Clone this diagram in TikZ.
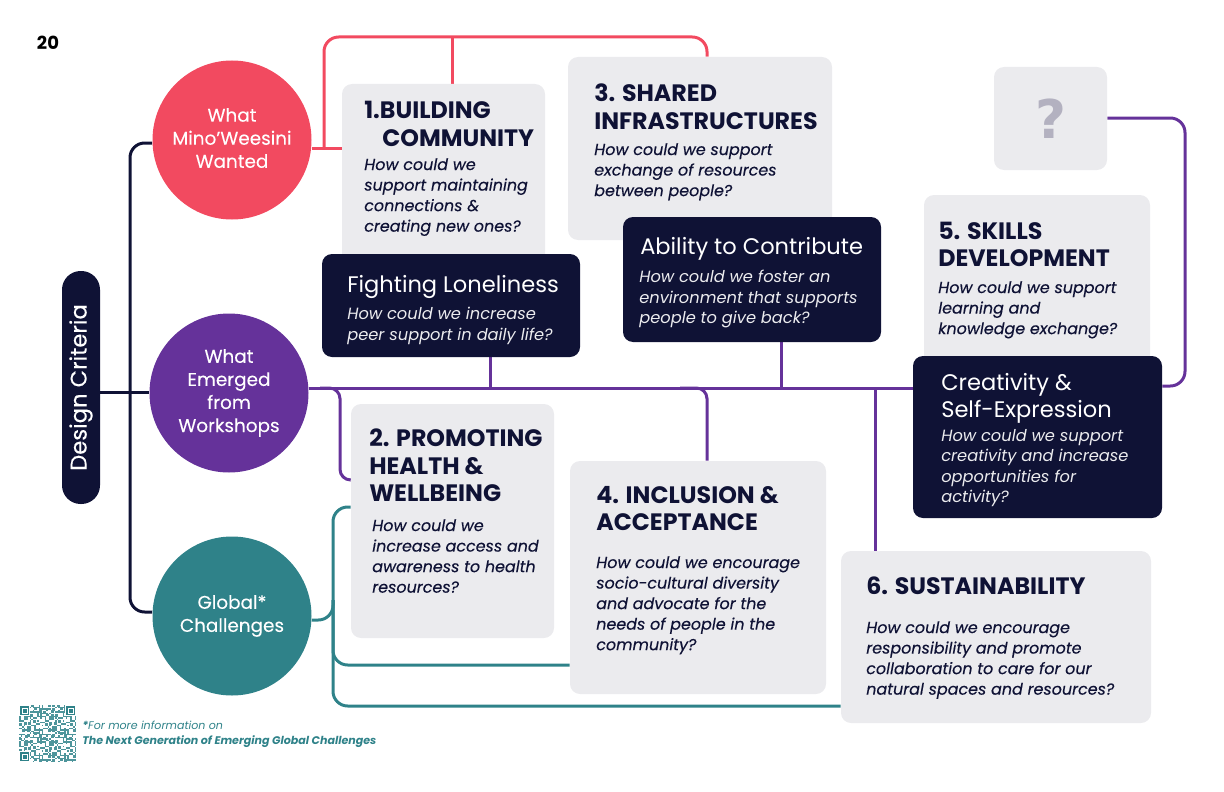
\documentclass[tikz,border=0pt]{standalone}
\usepackage{fontspec}
\setmainfont{Poppins}
\newfontfamily\qmfont{DejaVu Sans}
\usetikzlibrary{backgrounds}
\definecolor{pinkc}{HTML}{F24A60}
\definecolor{purp}{HTML}{65329A}
\definecolor{tealc}{HTML}{2F8289}
\definecolor{navy}{HTML}{0F1235}
\definecolor{greyb}{HTML}{EBEBEE}
\definecolor{qm}{HTML}{B3B1C0}
\tikzset{
  x=0.75pt,y=-0.75pt,
  circ/.style={circle,minimum size=119.25pt,inner sep=0pt,text=white,align=center,font=\fontsize{13.8}{17.3}\selectfont\addfontfeature{FakeBold=0.12}},
  greybox/.style={fill=greyb,rounded corners=7.5pt,draw=none,inner sep=0pt},
  darkbox/.style={fill=navy,rounded corners=7.5pt,draw=none,inner sep=0pt},
  head/.style={anchor=north west,inner sep=0pt,align=left,text=navy,font=\fontsize{17.8}{20.4}\selectfont\bfseries},
  ques/.style={anchor=north west,inner sep=0pt,align=left,text=navy,font=\fontsize{11.95}{15.4}\selectfont\itshape\addfontfeature{FakeBold=0.25}},
  dhead/.style={anchor=north west,inner sep=0pt,align=left,text=white,font=\fontsize{16.9}{20.2}\selectfont},
  dques/.style={anchor=north west,inner sep=0pt,align=left,text=white!92!navy,font=\fontsize{12.2}{15.4}\selectfont\itshape},
  conn/.style={line width=2.25pt,rounded corners=11pt},
  thin conn/.style={line width=2.25pt,rounded corners=8pt},
}
\begin{document}
\begin{tikzpicture}
\useasboundingbox (0,0) rectangle (1224,792);

\node[anchor=center,inner sep=0pt,font=\fontsize{13.5}{16}\selectfont\bfseries,text=black] (pg) at (48,43) {20};

% circles
\node[circ,fill=pinkc] (cp) at (232,140) {};
\node[circ,minimum size=0pt] (cpt) at (232,138) {What\\Mino'Weesini\\Wanted};
\node[circ,fill=purp] (cw) at (229,393) {What\\Emerged\\from\\Workshops};
\node[circ,fill=tealc] (cg) at (232,616) {Global*\\Challenges};

% pill
\node[fill=navy,rounded corners=14pt,minimum width=174.75pt,minimum height=28.5pt,inner sep=0pt,rotate=90,text=white,font=\fontsize{17}{20}\selectfont\addfontfeature{FakeBold=0.2}] (dc) at (81,387.5) {Design Criteria};

% grey boxes
\node[greybox,minimum width=152.25pt,minimum height=135pt] (b1) at (443.5,174) {};
\node[greybox,minimum width=198pt,minimum height=137.25pt] (b3) at (700,148.5) {};
\node[greybox,minimum width=169.5pt,minimum height=135pt] (b5) at (1037,285) {};
\node[greybox,minimum width=84.75pt,minimum height=77.25pt,text=qm,font=\fontsize{40}{40}\qmfont\bfseries] (bq) at (1050.5,118.5) {?};
\node[greybox,minimum width=152.25pt,minimum height=175.5pt] (b2) at (452.5,521) {};
\node[greybox,minimum width=192pt,minimum height=174.75pt] (b4) at (698,577.5) {};
\node[greybox,minimum width=232.5pt,minimum height=129pt] (b6) at (996,637) {};

% dark boxes
\node[darkbox,minimum width=193.5pt,minimum height=77.25pt] (dl) at (451,305.5) {};
\node[darkbox,minimum width=193.5pt,minimum height=93.75pt] (da) at (752,279.5) {};
\node[darkbox,minimum width=186.75pt,minimum height=121.5pt] (ds) at (1037.5,437) {};

% texts
\node[head] (t1a) at (364,101) {1.BUILDING};
\node[head] (t1b) at (382,129) {COMMUNITY};
\node[ques] (q1) at (364,158) {How could we\\support maintaining\\connections \&\\creating new ones?};
\node[head] (t3) at (594,84) {3. SHARED\\INFRASTRUCTURES};
\node[ques] (q3) at (594,143) {How could we support\\exchange of resources\\between people?};
\node[head] (t5) at (938,222) {5. SKILLS\\DEVELOPMENT};
\node[ques] (q5) at (938,281) {How could we support\\learning and\\knowledge exchange?};
\node[head] (t2) at (369,429) {2. PROMOTING\\HEALTH \&\\WELLBEING};
\node[ques] (q2) at (372,519) {How could we\\increase access and\\awareness to health\\resources?};
\node[head] (t4) at (596,486) {4. INCLUSION \&\\ACCEPTANCE};
\node[ques] (q4) at (596,556) {How could we encourage\\socio-cultural diversity\\and advocate for the\\needs of people in the\\community?};
\node[head] (t6) at (866,577) {6. SUSTAINABILITY};
\node[ques] (q6) at (866,621) {How could we encourage\\responsibility and promote\\collaboration to care for our\\natural spaces and resources?};

\node[dhead] (tl) at (347,275) {Fighting Loneliness};
\node[dques] (ql) at (347,307) {How could we increase\\peer support in daily life?};
\node[dhead] (ta) at (640,237) {Ability to Contribute};
\node[dques] (qa) at (639,270) {How could we foster an\\environment that supports\\people to give back?};
\node[dhead] (ts) at (941,373) {Creativity \&\\Self-Expression};
\node[dques] (qs) at (941,429) {How could we support\\creativity and increase\\opportunities for\\activity?};

% footer
\node[anchor=north west,inner sep=0pt,align=left,text=tealc,font=\fontsize{8.3}{11.4}\selectfont\itshape] (fn) at (82,720.5) {\textbf{*}For more information on\\\textbf{The Next Generation of Emerging Global Challenges}};

% QR
\begin{scope}[shift={(19,705)}]
\fill[tealc!85] (0,0) rectangle (57,57);
\foreach \i in {0,...,37}{\foreach \j in {0,...,37}{
  \pgfmathtruncatemacro{\v}{mod(\i*\i*3+\j*\j*2+\i*\j+\i,17)}
  \ifnum\v<8 \fill[white] (\i*1.5,\j*1.5) rectangle ++(1.5,1.5);\fi
}}
\foreach \a/\b in {0/0,46/0,0/46}{
  \fill[white] (\a,\b) rectangle ++(11,11);
  \fill[tealc] (\a+1,\b+1) rectangle ++(9,9);
  \fill[white] (\a+2.5,\b+2.5) rectangle ++(6,6);
  \fill[tealc] (\a+3.5,\b+3.5) rectangle ++(4,4);
}
\end{scope}

% connectors
\begin{scope}[on background layer]
\draw[navy,conn] (cp.west |- 0,143) -- (130,143) -- (130,612) -- (cg.west |- 0,612);
\draw[navy,line width=2.25pt] (dc.south |- 0,392) -- (cw.west |- 0,392);

\coordinate (pj) at (324,148);
\draw[pinkc,line width=2.25pt] (cp.east |- pj) -- (b1.west |- pj);
\draw[pinkc,conn] (pj) -- (324,37) -- (707,37) -- (707,0 |- b3.north);
\draw[pinkc,line width=2.25pt] (452,37) -- (452,0 |- b1.north);

\coordinate (w) at (0,388);
\draw[purp,line width=2.25pt] (cw.east |- w) -- (ds.west |- w);
\draw[purp,line width=2.25pt] (490,0 |- dl.south) -- (490,388);
\draw[purp,line width=2.25pt] (781,0 |- da.south) -- (781,388);
\draw[purp,line width=2.25pt] (875,388) -- (875,0 |- b6.north);
\draw[purp,thin conn] (320,388) -- (340,388) -- (340,480) -- (b2.west |- 0,480);
\draw[purp,thin conn] (680,388) -- (707,388) -- (707,461) -- (707,0 |- b4.north);
\draw[purp,conn] (ds.east |- 0,386) -- (1185,386) -- (1185,118) -- (bq.east |- 0,118);

\draw[tealc,conn] (cg.east |- 0,620) -- (333,620) -- (333,507) -- (b2.west |- 0,507);
\draw[tealc,conn] (333,600) -- (333,665) -- (b4.west |- 0,665);
\draw[tealc,conn] (333,600) -- (333,706) -- (b6.west |- 0,706);
\end{scope}
\end{tikzpicture}
\end{document}
